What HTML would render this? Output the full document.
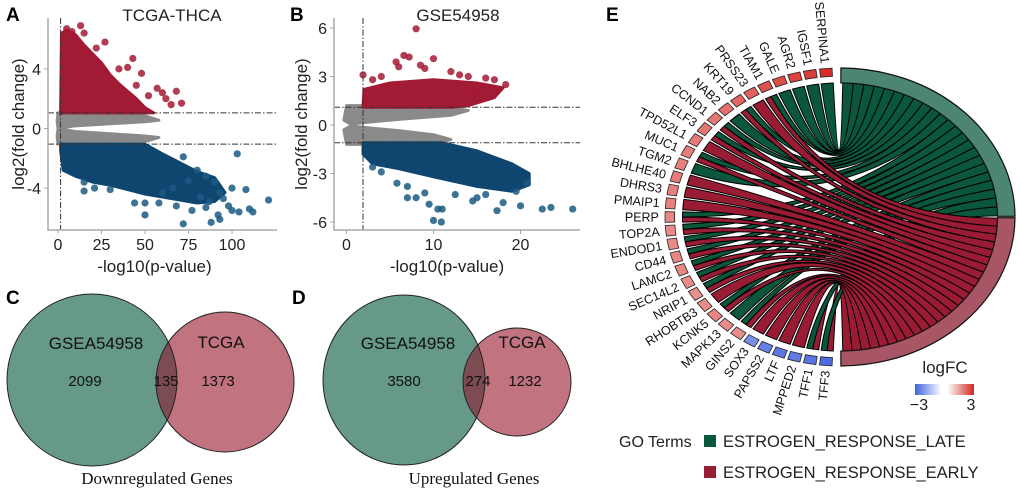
<!DOCTYPE html>
<html><head><meta charset="utf-8">
<style>
html,body{margin:0;padding:0;background:#fff}
svg{display:block;font-family:"Liberation Sans",sans-serif}
</style></head>
<body>
<svg id="fig" width="1020" height="491" viewBox="0 0 1020 491">
<g id="pa"></g>
<g id="pb"></g>
<g id="pc"></g>
<g id="pd"></g>
<g id="pe"></g>
<text x="6" y="21" font-size="19" font-weight="bold">A</text>
<text x="290" y="21" font-size="19" font-weight="bold">B</text>
<text x="6" y="304" font-size="19" font-weight="bold">C</text>
<text x="292" y="304" font-size="19" font-weight="bold">D</text>
<text x="606" y="21" font-size="19" font-weight="bold">E</text>
</svg>
<script>
// ---------- Volcano A data ----------
const aXTicks=[0,25,50,75,100];
const aYTicks=[4,0,-4];
const aRedEnv=[[1.5,1],[2,6.4],[5,6.6],[10,6.3],[15,5.6],[20,5.0],[25,4.4],[30,3.6],[35,3.0],[40,2.5],[45,2.0],[50,1.4],[55,1.05],[1.5,1.05]];
const aGrayTop=[[0,1.05],[30,1.05],[50,0.85],[58,0.55],[50,0.45],[30,0.32],[10,0.18],[2,0.04],[0,0.02],[-0.5,0.5]];
const aGrayBot=[[0,-1.05],[45,-1.05],[55,-0.7],[58,-0.6],[50,-0.5],[30,-0.35],[10,-0.2],[2,-0.05],[0,-0.02],[-0.5,-0.5]];
const aBlueEnv=[[1.5,-1.05],[50,-1.05],[60,-1.7],[70,-2.3],[80,-2.9],[90,-3.3],[96,-4.3],[90,-4.9],[80,-5.0],[70,-4.8],[60,-4.6],[50,-4.4],[40,-4.1],[30,-3.8],[20,-3.6],[10,-3.2],[3,-2.8],[1.5,-1.5]];
const aRedPts=[[5,6.7],[8,6.5],[13,6.9],[15,6.4],[27,5.8],[22,5.4],[43,4.7],[40,4.1],[48,3.7],[60,2.4],[62,2.0],[68,2.5],[71,1.7],[52,2.2],[35,4.0],[57,2.7],[65,1.6],[45,2.9]];
const aBluePts=[[103,-1.7],[72,-1.9],[80,-2.8],[85,-3.2],[90,-3.6],[108,-4.1],[121,-4.8],[110,-5.4],[100,-5.5],[92,-5.8],[93,-6.1],[72,-6.4],[50,-5.0],[50,-5.8],[44,-5.0],[30,-4.1],[15,-3.6],[15,-4.2],[21,-4.0],[98,-5.2],[104,-5.6],[112,-5.6],[95,-4.7],[82,-4.6],[66,-4.0],[60,-4.3],[58,-5.0],[77,-5.5],[87,-4.9],[93,-4.3],[100,-4.0],[85,-5.3],[75,-3.5],[68,-5.2],[88,-6.3]];
// ---------- Volcano B data ----------
const bXTicks=[0,10,20];
const bYTicks=[6,3,0,-3,-6];
const bRedEnv=[[1.9,1.1],[2,2.2],[5,2.6],[10,2.8],[15,2.6],[18,2.3],[17,1.7],[14,1.2],[12,1.1]];
const bGrayTop=[[-0.3,0.3],[0,1.2],[2,1.2],[12,1.05],[14,0.9],[12,0.6],[6,0.35],[2,0.15],[0.5,0.05]];
const bGrayBot=[[-0.3,-0.3],[0,-1.2],[2,-1.2],[11,-1.05],[12,-0.9],[10,-0.6],[6,-0.35],[2,-0.15],[0.5,-0.05]];
const bBlueEnv=[[1.9,-1.1],[11,-1.1],[15,-1.6],[19,-2.4],[21,-3.0],[21,-3.7],[19,-4.1],[15,-3.8],[10,-3.2],[6,-2.7],[3,-2.4],[1.9,-1.8]];
const bRedPts=[[8,5.95],[6.6,4.3],[7.2,4.2],[10,4.1],[5.7,3.9],[8.5,3.7],[9,3.5],[1.9,3.1],[3,2.8],[4,3.0],[12,3.3],[13,3.1],[14,3.0],[16,2.9],[17,2.8],[18.3,2.5],[15,2.0],[6,3.6]];
const bBluePts=[[5.8,-3.6],[7,-3.8],[7,-4.5],[8,-4.5],[9,-4.2],[10.5,-5.2],[11,-5.2],[10,-5.9],[10.9,-6.0],[9.5,-4.9],[12.5,-4.3],[14.5,-4.7],[15,-4.5],[17.3,-5.3],[18,-4.8],[20,-5.0],[22.5,-5.2],[23.5,-5.1],[26,-5.2],[3,-2.6],[4,-2.9],[19.5,-4.1],[16,-4.3],[20.8,-3.6]];
// ---------- Venn data ----------
const vennDown=[2099,135,1373];
const vennUp=[3580,274,1232];
// ---------- Chord data ----------
const genes=["TFF3","TFF1","MPPED2","LTF","PAPSS2","SOX3","GINS2","MAPK13","KCNK5","RHOBTB3","NRIP1","SEC14L2","LAMC2","CD44","ENDOD1","TOP2A","PERP","PMAIP1","DHRS3","BHLHE40","TGM2","MUC1","TPD52L1","ELF3","CCND1","NAB2","KRT19","PRSS23","TIAM1","GALE","AGR2","IGSF1","SERPINA1"];
const logFC=[-2.8,-2.6,-2.4,-2.5,-2.3,-1.9,1.2,1.2,1.3,1.2,1.1,1.2,1.3,1.3,1.2,1.2,1.3,1.4,1.4,1.5,1.4,1.5,1.5,1.6,1.6,1.7,1.9,2.0,2.3,2.4,2.6,2.7,3.0];
const inLate=[1,1,0,0,0,0,1,1,1,0,1,1,1,1,1,1,1,0,0,0,1,1,0,1,1,1,1,0,1,1,1,1,1];
const inEarly=[1,1,1,1,1,1,1,0,1,1,1,1,1,1,1,1,1,1,1,1,0,1,1,1,1,0,1,1,1,0,0,0,0];

const NS="http://www.w3.org/2000/svg";
function mk(parent,tag,attrs){const e=document.createElementNS(NS,tag);for(const k in attrs)e.setAttribute(k,attrs[k]);parent.appendChild(e);return e;}

function volcano(g,o){
  const sx=v=>o.x0+v*o.kx, sy=v=>o.y0-v*o.ky;
  const clipId=o.id+"clip";
  const cp=mk(g,"clipPath",{id:clipId});mk(cp,"rect",{x:o.left+1,y:o.top,width:o.right-o.left,height:o.bottom-o.top-1});
  const area=mk(g,"g",{"clip-path":"url(#"+clipId+")"});
  const poly=(arr,fill,name)=>{const p=mk(area,"polygon",{points:arr.map(d=>sx(d[0])+","+sy(d[1])).join(" "),fill:fill,stroke:fill,"stroke-width":3,"stroke-linejoin":"round"});
    
    };
  poly(o.grayTop,"#8a8a8a","nonsig-cloud-up");poly(o.grayBot,"#8a8a8a","nonsig-cloud-down");
  poly(o.red,"#a31a35","up-cloud");poly(o.blue,"#0e4670","down-cloud");
  o.redPts.forEach(d=>{const c=mk(area,"circle",{cx:sx(d[0]),cy:sy(d[1]),r:3.6,fill:"#a31a35","fill-opacity":0.85});
    
    });
  o.bluePts.forEach(d=>{const c=mk(area,"circle",{cx:sx(d[0]),cy:sy(d[1]),r:3.6,fill:"#1b5a82","fill-opacity":0.85});
    
    });
  // threshold lines
  [o.thr,-o.thr].forEach(t=>{const l=mk(g,"line",{x1:o.left,x2:o.right,y1:sy(t),y2:sy(t),stroke:"#333","stroke-width":1,"stroke-dasharray":"6,2,1.5,2"});
    
    });
  const vl=mk(g,"line",{x1:sx(o.pthr),x2:sx(o.pthr),y1:o.top,y2:o.bottom,stroke:"#333","stroke-width":1,"stroke-dasharray":"6,2,1.5,2"});
  
  
  // axes
  const ax=mk(g,"path",{d:`M${o.left},${o.top}V${o.bottom}H${o.right}`,fill:"none",stroke:"#aaa","stroke-width":1.5});
  
  
  o.xt.forEach(t=>{mk(g,"line",{x1:sx(t),x2:sx(t),y1:o.bottom,y2:o.bottom+4,stroke:"#aaa"});
    const tx=mk(g,"text",{x:sx(t),y:o.bottom+20,"font-size":16,"text-anchor":"middle",fill:"#222"});tx.textContent=t;
    
    });
  o.yt.forEach(t=>{mk(g,"line",{x1:o.left-4,x2:o.left,y1:sy(t),y2:sy(t),stroke:"#aaa"});
    const tx=mk(g,"text",{x:o.left-7,y:sy(t)+6,"font-size":16,"text-anchor":"end",fill:"#222"});tx.textContent=t;
    
    });
  const ti=mk(g,"text",{x:o.tx,y:21,"font-size":17,"text-anchor":"middle",fill:"#222"});ti.textContent=o.title;
  
  const xl=mk(g,"text",{x:(o.left+o.right)/2+(o.xlOff||0),y:272,"font-size":17,"text-anchor":"middle",fill:"#222"});xl.textContent="-log10(p-value)";
  
  const yl=mk(g,"text",{x:0,y:0,"font-size":17,"text-anchor":"middle",fill:"#222",transform:`translate(${o.ylx},${(o.top+o.bottom)/2}) rotate(-90)`});yl.textContent="log2(fold change)";
  
}
volcano(document.getElementById("pa"),{id:"a",x0:58,kx:1.74,y0:128.5,ky:14.9,left:48,right:277,top:18,bottom:230,thr:1.05,pthr:1.5,
  xt:aXTicks,yt:aYTicks,red:aRedEnv,blue:aBlueEnv,grayTop:aGrayTop,grayBot:aGrayBot,redPts:aRedPts,bluePts:aBluePts,title:"TCGA-THCA",tx:172,ylx:24,xlOff:-8});
volcano(document.getElementById("pb"),{id:"b",x0:346.5,kx:8.7,y0:125,ky:16.17,left:334,right:580,top:18,bottom:230,thr:1.1,pthr:1.9,
  xt:bXTicks,yt:bYTicks,red:bRedEnv,blue:bBlueEnv,grayTop:bGrayTop,grayBot:bGrayBot,redPts:bRedPts,bluePts:bBluePts,title:"GSE54958",tx:458,ylx:307,xlOff:-10});

function venn(g,o,vals){
  const id=o.id;
  const cp=mk(g,"clipPath",{id:id+"c"});mk(cp,"ellipse",{cx:o.g[0],cy:o.g[1],rx:o.g[2],ry:o.g[3]});
  const e1=mk(g,"ellipse",{cx:o.g[0],cy:o.g[1],rx:o.g[2],ry:o.g[3],fill:"#66998a"});
  
  const e2=mk(g,"ellipse",{cx:o.r[0],cy:o.r[1],rx:o.r[2],ry:o.r[3],fill:"#c1737f"});
  
  const e3=mk(g,"ellipse",{cx:o.r[0],cy:o.r[1],rx:o.r[2],ry:o.r[3],fill:"#7d4b52","clip-path":`url(#${id}c)`});
  
  mk(g,"ellipse",{cx:o.g[0],cy:o.g[1],rx:o.g[2],ry:o.g[3],fill:"none",stroke:"#222","stroke-width":1});
  mk(g,"ellipse",{cx:o.r[0],cy:o.r[1],rx:o.r[2],ry:o.r[3],fill:"none",stroke:"#222","stroke-width":1});
  const T=(x,y,s,txt,name,fam)=>{const t=mk(g,"text",{x:x,y:y,"font-size":s,"text-anchor":"middle",fill:"#111"});if(fam)t.setAttribute("font-family",fam);t.textContent=txt;
    };
  T(o.t[0],349,17,"GSEA54958","gse-set-label");
  T(o.t[1],355-7+0,17,"TCGA","tcga-set-label");
  T(o.n[0],386,15,vals[0],"gse-only-count");
  T(o.n[1],386,15,vals[1],"overlap-count");
  T(o.n[2],386,15,vals[2],"tcga-only-count");
  T(o.cap,484,17,o.caption,"venn-caption",'"Liberation Serif",serif');
}
venn(document.getElementById("pc"),{id:"vc",g:[92,380,85,86],r:[225,382,69,70],t:[96,221],n:[85,166,218],cap:157,caption:"Downregulated Genes"},vennDown);
venn(document.getElementById("pd"),{id:"vd",g:[404,380,81,85],r:[517,382,54,54],t:[408,522],n:[404,478,525],cap:474,caption:"Upregulated Genes"},vennUp);

// ---------- Chord ----------
(function(){
  const g=document.getElementById("pe");
  const cx=840,cy=217,rx=175,ry=149,RI=0.9;
  const rad=d=>d*Math.PI/180;
  const P=(th,r)=>[cx+rx*r*Math.sin(rad(th)),cy-ry*r*Math.cos(rad(th))];
  const arcPath=(t1,t2,ro,ri)=>{const a=P(t1,ro),b=P(t2,ro),c=P(t2,ri),d=P(t1,ri);const lg=(t2-t1)>180?1:0;
    return `M${a}A${rx*ro},${ry*ro} 0 ${lg} 1 ${b}L${c}A${rx*ri},${ry*ri} 0 ${lg} 0 ${d}Z`;};
  const col=v=>{const t=Math.max(-1,Math.min(1,v/3));let c0,c1,f;
    if(t<0){c0=[255,255,255];c1=[70,100,225];f=-t;}else{c0=[255,255,255];c1=[215,45,40];f=t;}
    f=0.25+0.75*f;
    return `rgb(${c0.map((x,i)=>Math.round(x+(c1[i]-x)*f)).join(",")})`;};
  const n=genes.length, gStart=182, gEnd=358, step=(gEnd-gStart)/n, pad=0.9;
  // term slots
  const lateGenes=[],earlyGenes=[];
  for(let i=n-1;i>=0;i--) if(inLate[i]) lateGenes.push(i);
  for(let i=0;i<n;i++) if(inEarly[i]) earlyGenes.push(i);
  const lateStep=(89.5-1)/lateGenes.length, earlyStep=(179-90.5)/earlyGenes.length;
  const ribbons=[];
  for(let i=0;i<n;i++){
    const a1=gStart+i*step+pad/2, a2=gStart+(i+1)*step-pad/2;
    let segs=[];
    if(inLate[i]&&inEarly[i]){const m=(a1+a2)/2;segs=[["E",a1,m],["L",m,a2]];}
    else if(inLate[i]) segs=[["L",a1,a2]]; else if(inEarly[i]) segs=[["E",a1,a2]];
    segs.forEach(s=>{let t1,t2;
      if(s[0]==="L"){const k=lateGenes.indexOf(i);t1=1+k*lateStep;t2=t1+lateStep;}
      else{const k=earlyGenes.indexOf(i);t2=179-k*earlyStep;t1=t2-earlyStep;}
      ribbons.push({term:s[0],g1:s[1],g2:s[2],t1:t1,t2:t2});});
  }
  // draw ribbons
  ribbons.forEach(r=>{
    const A=P(r.g1,RI),B=P(r.g2,RI),C=P(r.t1,RI),D=P(r.t2,RI);
    const d=`M${A}A${rx*RI},${ry*RI} 0 0 1 ${B}Q${cx},${cy} ${C}A${rx*RI},${ry*RI} 0 0 1 ${D}Q${cx},${cy} ${A}Z`;
    const p=mk(g,"path",{d:d,fill:r.term==="L"?"#0b573c":"#9a1b34",stroke:"#000","stroke-width":1});
    
    
  });
  // term arcs
  const ta=mk(g,"path",{d:arcPath(0.3,89.7,1.0,0.9),fill:"#4c8672",stroke:"#111","stroke-width":1.2});
  
  const tb=mk(g,"path",{d:arcPath(90.3,179.7,1.0,0.9),fill:"#a85565",stroke:"#111","stroke-width":1.2});
  
  // gene blocks + labels
  for(let i=0;i<n;i++){
    const a1=gStart+i*step+0.6, a2=gStart+(i+1)*step-0.6, am=(a1+a2)/2;
    const b=mk(g,"path",{d:arcPath(a1,a2,1.0,0.945),fill:col(logFC[i]),stroke:"#222","stroke-width":0.8});
    
    
    const p=P(am,1.035), c=[cx,cy];
    const ang=Math.atan2(cy-p[1]-0,(cx-p[0]))*180/Math.PI;
    // inward direction in screen coords
    const dx=-Math.sin(rad(am))*rx, dy=Math.cos(rad(am))*ry;
    const rot=Math.atan2(dy,dx)*180/Math.PI;
    const t=mk(g,"text",{x:0,y:0,"font-size":12.5,"text-anchor":"end",fill:"#111",transform:`translate(${p[0].toFixed(1)},${p[1].toFixed(1)}) rotate(${rot.toFixed(1)}) translate(0,4.5)`});
    t.textContent=genes[i];
    
    
  }
  // logFC legend
  const defs=mk(g,"defs",{});const lg=mk(defs,"linearGradient",{id:"fcg",x1:0,x2:1,y1:0,y2:0});
  [[0,"#3f63e0"],[0.45,"#ffffff"],[0.55,"#ffffff"],[1,"#d2281f"]].forEach(s=>mk(lg,"stop",{offset:s[0],"stop-color":s[1]}));
  const lt=mk(g,"text",{x:945,y:373,"font-size":17,"text-anchor":"middle",fill:"#222"});lt.textContent="logFC";
  
  const gb=mk(g,"rect",{x:915,y:384,width:59,height:11,fill:"url(#fcg)"});
  
  const l1=mk(g,"text",{x:919,y:410,"font-size":16,"text-anchor":"middle",fill:"#222"});l1.textContent="\u22123";
  
  const l2=mk(g,"text",{x:971,y:410,"font-size":16,"text-anchor":"middle",fill:"#222"});l2.textContent="3";
  
  // GO legend
  const gt=mk(g,"text",{x:619,y:447,"font-size":16,fill:"#222"});gt.textContent="GO Terms";
  
  [["#0b573c","ESTROGEN_RESPONSE_LATE",435,447,"legend-entry-late"],["#9a1b34","ESTROGEN_RESPONSE_EARLY",466,478,"legend-entry-early"]].forEach(e=>{
    const s=mk(g,"rect",{x:704,y:e[2],width:12,height:12,fill:e[0]});
    
    const t=mk(g,"text",{x:723,y:e[3],"font-size":16.5,fill:"#222"});t.textContent=e[1];
    
  });
})();
</script>
</body></html>
